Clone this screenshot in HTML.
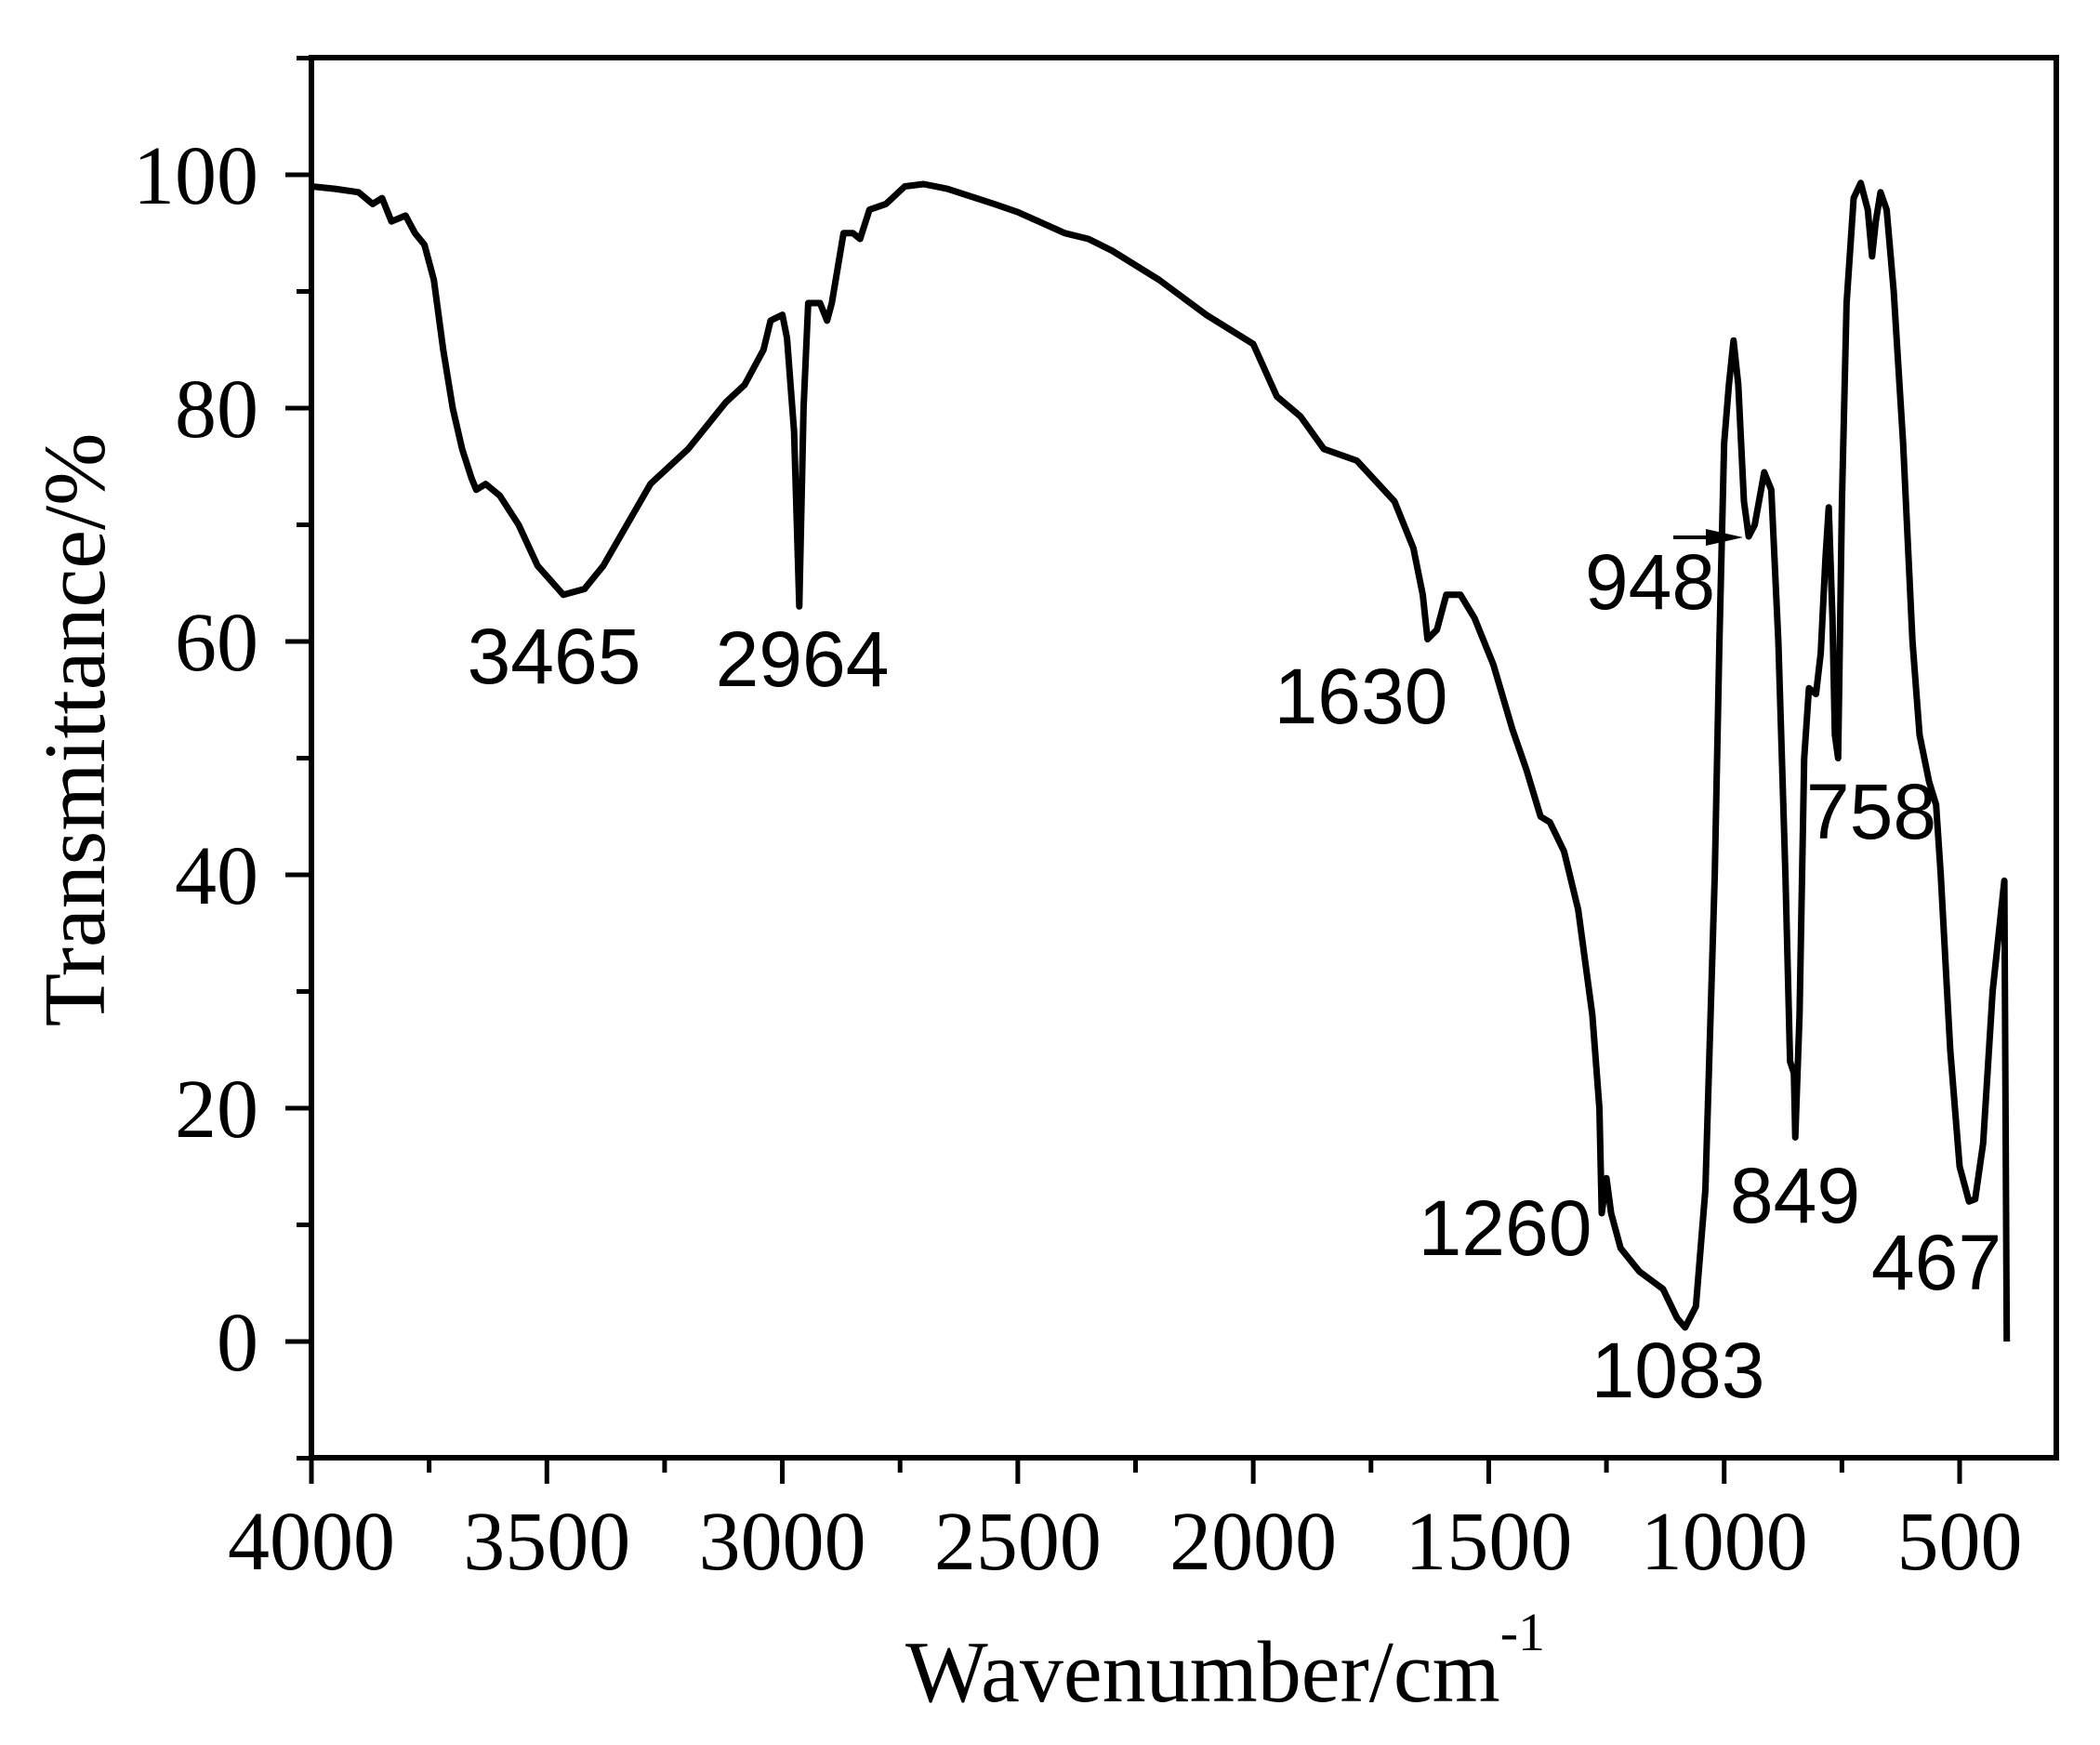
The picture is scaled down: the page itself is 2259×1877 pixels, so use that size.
<!DOCTYPE html>
<html><head><meta charset="utf-8">
<style>
html,body{margin:0;padding:0;background:#fff;}
svg{display:block;}
.tick{font-family:"Liberation Serif",serif;font-size:90px;fill:#000;}
.title{font-family:"Liberation Serif",serif;font-size:94px;fill:#000;}
.peak{font-family:"Liberation Sans",sans-serif;font-size:84px;fill:#000;}
</style></head>
<body>
<svg id="chart" width="2259" height="1877" viewBox="0 0 2259 1877" xmlns="http://www.w3.org/2000/svg">
<g id="axes"></g>
<path id="spectrum" fill="none" stroke="#000" stroke-width="7" stroke-linejoin="round"></path>
<g id="labels"></g>
<text class="title" x="1318" y="1830" text-anchor="middle">Wavenumber/cm<tspan dy="-55" font-size="58">-1</tspan></text>
<text class="title" transform="translate(112,785) rotate(-90)" text-anchor="middle">Transmittance/%</text>
</svg>
<script>
const wavenumbers = [4000,3950,3900,3870,3850,3830,3800,3780,3760,3740,3720,3700,3680,3660,3650,3630,3600,3560,3520,3465,3420,3380,3330,3280,3200,3120,3080,3040,3025,3000,2990,2975,2964,2955,2945,2920,2905,2895,2870,2850,2835,2815,2780,2740,2700,2650,2550,2500,2400,2350,2300,2200,2100,2000,1950,1900,1850,1780,1700,1660,1640,1630,1610,1590,1560,1530,1490,1450,1420,1390,1370,1340,1310,1280,1265,1260,1250,1240,1220,1180,1130,1100,1083,1060,1040,1020,1010,1000,990,980,970,958,948,935,915,900,885,870,860,852,849,840,830,820,805,795,785,778,770,765,758,750,740,725,710,695,686,678,668,655,640,620,600,585,565,550,540,520,500,480,467,450,430,405,400];
const transmittance = [99,98.8,98.5,97.5,98,96,96.5,95,94,91,85,80,76.5,74,73,73.5,72.5,70,66.5,64,64.5,66.5,70,73.5,76.5,80.5,82,85,87.5,88,86,78,63,80,89,89,87.5,89,95,95,94.5,97,97.5,99,99.2,98.8,97.5,96.8,95,94.5,93.5,91,88,85.5,81,79.3,76.5,75.5,72,68,64,60.2,61,64,64,62,58,52.5,49,45,44.5,42,37,28,20,11,14,11,8,6,4.5,2,1.2,3,13,40,60,77,82,85.8,82,72,69,70,74.5,73,60,40,24,23,17.5,28,50,56,55.5,59,67,71.5,62,52,50,72,89,98,99.3,97,93,96,98.5,97,90,77,60,52,48,46,40,25,15,12,12.2,17,30,39.5,0];
const xTicks = [4000,3500,3000,2500,2000,1500,1000,500];
const yTicks = [0,20,40,60,80,100];
const peakNames = ["3465","2964","1630","948","1260","1083","849","758","467"];
const peakPos = [[596,735],[863,738],[1464,778],[1775,655],[1619,1350],[1805,1503],[1931,1315],[2013,902],[2083,1387]];

const X0=335, X1=2212, Y0=62, Y1=1568;
const xs = w => 335 + (4000 - w) * (2108 - 335) / 3500;
const ys = t => 1443 - t * 12.55;
const NS="http://www.w3.org/2000/svg";
function mk(tag, attrs, parent){const e=document.createElementNS(NS,tag);for(const k in attrs)e.setAttribute(k,attrs[k]);parent.appendChild(e);return e;}

const axes=document.getElementById('axes');
const frame=mk('rect',{x:X0,y:Y0,width:X1-X0,height:Y1-Y0,fill:'none',stroke:'#000','stroke-width':6},axes);


for(let w=4000; w>=300; w-=250){
  const major = w%500===0;
  const t=mk('line',{x1:xs(w),x2:xs(w),y1:Y1,y2:Y1+(major?28:16),stroke:'#000','stroke-width':5},axes);
  
  
}
xTicks.forEach(v=>{
  const t=mk('text',{x:xs(v),y:1688,'text-anchor':'middle',class:'tick'},axes);t.textContent=v;
  
  
});
for(let v=-10; v<=110; v+=10){
  const major = v%20===0;
  const t=mk('line',{x1:X0,x2:X0-(major?28:16),y1:ys(v),y2:ys(v),stroke:'#000','stroke-width':5},axes);
  
  
}
yTicks.forEach(v=>{
  const t=mk('text',{x:278,y:ys(v)+31,'text-anchor':'end',class:'tick'},axes);t.textContent=v;
  
  
});

let d='';
wavenumbers.forEach((w,i)=>{d+=(i?'L':'M')+xs(w).toFixed(1)+' '+ys(transmittance[i]).toFixed(1)+' ';});
document.getElementById('spectrum').setAttribute('d',d);

const labels=document.getElementById('labels');
peakNames.forEach((n,i)=>{
  const t=mk('text',{x:peakPos[i][0],y:peakPos[i][1],'text-anchor':'middle',class:'peak'},labels);t.textContent=n;
  
  
});
const arr=mk('line',{x1:1800,y1:578,x2:1860,y2:578,stroke:'#000','stroke-width':4},labels);


const head=mk('polygon',{points:'1875,578 1835,569 1835,587',fill:'#000'},labels);


</script>
</body></html>
